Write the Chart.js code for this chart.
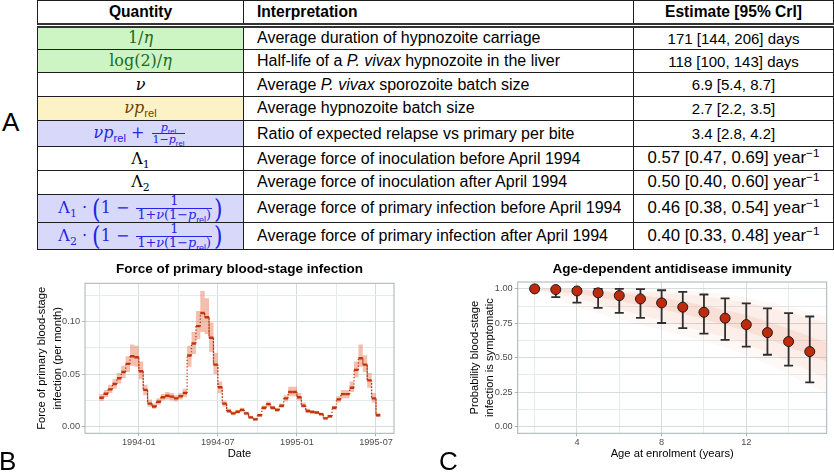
<!DOCTYPE html>
<html>
<head>
<meta charset="utf-8">
<script src="https://cdn.jsdelivr.net/npm/chart.js@4.4.0/dist/chart.umd.min.js"></script>
<style>
  body { margin: 0; width: 834px; height: 476px; position: relative; overflow: hidden; background: #fff;
         font-family: "Liberation Sans", Arial, sans-serif; }
  #tab { position: absolute; left: 37px; top: 0; width: 796px; border-collapse: collapse;
         table-layout: fixed; font-size: 16px; color: #000; }
  #tab th, #tab td { border: 1px solid #1e1e1e; padding: 0; white-space: nowrap; overflow: hidden; line-height: 1; }
  #tab th { height: 22px; font-size: 15.6px; font-weight: bold; text-align: center; border-bottom: 5px double #333; }
  #tab th.l, #tab td.i { text-align: left; padding-left: 13px; }
  #tab td.e, #tab td.q { text-align: center; }
  #tab td.e { font-size: 15px; }
  #tab td.e.yr { font-size: 16.8px; }
  #tab tr { height: 23.7px; }
  #tab tr.fr5 { height: 26.5px; }
  #tab tr.big { height: 28.6px; }
  #tab tr.big2 { height: 26.5px; }
  .q { font-family: "DejaVu Serif", serif; font-size: 16px; }
  .q sub { font-size: 0.68em; line-height: 0; }
  sub.s { font-family: "Liberation Sans", sans-serif; font-size: 0.7em; line-height: 0; }
  sup { font-size: 0.7em; vertical-align: 0.5em; line-height: 0; }
  .green { background: #cdf5c3; color: #226a22; }
  .yellow { background: #fdf2c6; color: #6a4300; }
  .blue { background: #d8d8fa; color: #2424e6; }
  .fr { display: inline-block; vertical-align: middle; text-align: center; font-size: 11px; line-height: 1; margin: 0 2px; }
  .fr.wide { font-size: 12.8px; line-height: 0.98; }
  .fr > span { display: block; padding: 0 1px; }
  .fr > span:first-child { border-bottom: 1px solid currentColor; }
  .bp { display: inline-block; font-size: 22px; line-height: 0.9; vertical-align: middle; font-weight: 300; transform: scale(1, 1.22); }
  canvas { position: absolute; }
  .lab { position: absolute; font-size: 26px; line-height: 26px; color: #000; }
</style>
</head>
<body>
<table id="tab">
  <colgroup><col style="width:206px"><col style="width:390px"><col style="width:200px"></colgroup>
  <tr><th>Quantity</th><th class="l">Interpretation</th><th>Estimate [95% CrI]</th></tr>
</table>
<canvas id="cb" width="420" height="221" style="left:0;top:255px"></canvas>
<canvas id="cc" width="414" height="221" style="left:420px;top:255px"></canvas>
<div class="lab" style="left:2px;top:109px">A</div>
<div class="lab" style="left:-1px;top:448px">B</div>
<div class="lab" style="left:439px;top:448px">C</div>
<script>
// ---- table A ----
const quantities = [
  '1/<i>η</i>',
  'log(2)/<i>η</i>',
  '<i>ν</i>',
  '<i>νp</i><sub class="s">rel</sub>',
  '<i>νp</i><sub class="s">rel</sub> + <span class="fr"><span><i>p</i><sub class="s">rel</sub></span><span>1−<i>p</i><sub class="s">rel</sub></span></span>',
  'Λ<sub>1</sub>',
  'Λ<sub>2</sub>',
  'Λ<sub>1</sub> · <span class="bp">(</span>1 − <span class="fr wide"><span>1</span><span>1+<i>ν</i>(1−<i>p</i><sub class="s">rel</sub>)</span></span><span class="bp">)</span>',
  'Λ<sub>2</sub> · <span class="bp">(</span>1 − <span class="fr wide"><span>1</span><span>1+<i>ν</i>(1−<i>p</i><sub class="s">rel</sub>)</span></span><span class="bp">)</span>'
];
const interpretations = [
  'Average duration of hypnozoite carriage',
  'Half-life of a <i>P. vivax</i> hypnozoite in the liver',
  'Average <i>P. vivax</i> sporozoite batch size',
  'Average hypnozoite batch size',
  'Ratio of expected relapse vs primary per bite',
  'Average force of inoculation before April 1994',
  'Average force of inoculation after April 1994',
  'Average force of primary infection before April 1994',
  'Average force of primary infection after April 1994'
];
const estimates = [
  '171 [144, 206] days',
  '118 [100, 143] days',
  '6.9 [5.4, 8.7]',
  '2.7 [2.2, 3.5]',
  '3.4 [2.8, 4.2]',
  '0.57 [0.47, 0.69] year<sup>−1</sup>',
  '0.50 [0.40, 0.60] year<sup>−1</sup>',
  '0.46 [0.38, 0.54] year<sup>−1</sup>',
  '0.40 [0.33, 0.48] year<sup>−1</sup>'
];
const quantityTone = ['green', 'green', '', 'yellow', 'blue', '', '', 'blue', 'blue'];
const rowKind = ['', '', '', '', 'fr5', '', '', 'big', 'big2'];

const tab = document.getElementById('tab');
quantities.forEach((q, i) => {
  const tr = tab.insertRow();
  tr.className = rowKind[i];
  const c0 = tr.insertCell(); c0.className = 'q ' + quantityTone[i]; c0.innerHTML = q;
  const c1 = tr.insertCell(); c1.className = 'i'; c1.innerHTML = interpretations[i];
  const c2 = tr.insertCell(); c2.className = estimates[i].includes('year') ? 'e yr' : 'e'; c2.innerHTML = estimates[i];
});

// ---- panel B: dekads from 1993-10 (index 0) ----
const dekadValues = [
  0.0276, 0.0314, 0.0355, 0.0406, 0.046, 0.052, 0.0597, 0.067, 0.066,
  0.0527, 0.035, 0.022, 0.0193, 0.0238, 0.028, 0.0295, 0.0286, 0.027,
  0.029, 0.032, 0.0676, 0.079, 0.0955, 0.108, 0.104, 0.0845, 0.059,
  0.0375, 0.022, 0.015, 0.0127, 0.0143, 0.016, 0.0127, 0.0089, 0.007,
  0.011, 0.018, 0.0215, 0.018, 0.016, 0.020, 0.027, 0.033, 0.033,
  0.028, 0.020, 0.015, 0.014, 0.0135, 0.012, 0.008, 0.010, 0.018,
  0.026, 0.031, 0.031, 0.037, 0.054, 0.065, 0.059, 0.044, 0.027,
  0.011
];
const dekadLower = [
  0.0245, 0.028, 0.032, 0.036, 0.041, 0.046, 0.052, 0.058, 0.057,
  0.045, 0.030, 0.019, 0.017, 0.021, 0.025, 0.026, 0.025, 0.024,
  0.026, 0.028, 0.057, 0.069, 0.083, 0.090, 0.088, 0.071, 0.050,
  0.032, 0.019, 0.013, 0.011, 0.0125, 0.014, 0.011, 0.0075, 0.006,
  0.0095, 0.016, 0.019, 0.016, 0.014, 0.018, 0.024, 0.029, 0.029,
  0.025, 0.018, 0.013, 0.0125, 0.012, 0.0105, 0.007, 0.0085, 0.016,
  0.023, 0.027, 0.027, 0.033, 0.047, 0.057, 0.052, 0.037, 0.023,
  0.0095
];
const dekadUpper = [
  0.031, 0.035, 0.040, 0.045, 0.051, 0.058, 0.067, 0.078, 0.077,
  0.062, 0.040, 0.026, 0.022, 0.027, 0.031, 0.033, 0.032, 0.030,
  0.032, 0.036, 0.077, 0.090, 0.110, 0.129, 0.122, 0.099, 0.070,
  0.043, 0.025, 0.017, 0.0145, 0.016, 0.018, 0.0145, 0.0105, 0.0085,
  0.0125, 0.020, 0.024, 0.020, 0.018, 0.022, 0.030, 0.038, 0.038,
  0.032, 0.023, 0.017, 0.016, 0.015, 0.0135, 0.0095, 0.0115, 0.020,
  0.029, 0.035, 0.035, 0.043, 0.062, 0.078, 0.068, 0.051, 0.032,
  0.013
];
const dateTickPos = [9, 27, 45, 63];
const dateTickLabels = ['1994-01', '1994-07', '1995-01', '1995-07'];

// ---- panel C ----
const ages = [2, 3, 4, 5, 6, 7, 8, 9, 10, 11, 12, 13, 14, 15];
const symptomMean = [1.00, 0.995, 0.985, 0.971, 0.951, 0.927, 0.898, 0.867, 0.830, 0.787, 0.740, 0.682, 0.617, 0.544];
const symptomLow = [1.00, 0.94, 0.90, 0.862, 0.826, 0.789, 0.752, 0.714, 0.674, 0.629, 0.58, 0.521, 0.442, 0.32];
const symptomHigh = [1.00, 1.00, 1.00, 1.00, 1.00, 0.998, 0.99, 0.978, 0.959, 0.931, 0.894, 0.858, 0.823, 0.799];
const fanAges = [2, 4, 6, 8, 10, 12, 14, 15.8];
const fanOuterLo = [1, 0.87, 0.78, 0.70, 0.62, 0.52, 0.38, 0.24];
const fanOuterHi = [1, 1, 1, 0.995, 0.975, 0.935, 0.87, 0.80];
const fanMidLo = [1, 0.93, 0.85, 0.77, 0.69, 0.60, 0.47, 0.35];
const fanMidHi = [1, 0.998, 0.985, 0.97, 0.945, 0.90, 0.83, 0.75];
const fanCoreLo = [1, 0.965, 0.91, 0.85, 0.78, 0.69, 0.58, 0.47];
const fanCoreHi = [1, 0.995, 0.97, 0.935, 0.88, 0.81, 0.71, 0.61];

Chart.defaults.font.family = '"Liberation Sans", Arial, sans-serif';
Chart.defaults.color = '#4d4d4d';

const GRID_MAJOR = '#d4dcdc';
const GRID_MINOR = '#e6ebeb';

const panelBox = {
  id: 'panelBox',
  afterDatasetsDraw(chart) {
    const { ctx, chartArea: a } = chart;
    ctx.save();
    ctx.strokeStyle = '#a7b2b2';
    ctx.lineWidth = 1;
    ctx.strokeRect(a.left, a.top, a.right - a.left, a.bottom - a.top);
    ctx.restore();
  }
};

function steps(vals) {
  const pts = [];
  vals.forEach((v, i) => { pts.push({ x: i, y: v }, { x: i + 1, y: v }); });
  return pts;
}
function pairs(xs, ys) {
  return xs.map((x, i) => ({ x: x, y: ys[i] }));
}
function isMult(v, m) {
  return Math.abs(v / m - Math.round(v / m)) < 1e-6;
}
const vertical = (c) => c.p0.parsed.x === c.p1.parsed.x;

new Chart(document.getElementById('cb'), {
  type: 'line',
  data: {
    datasets: [
      {
        data: steps(dekadValues), borderColor: '#c2340c', borderWidth: 2.4, pointRadius: 0, fill: false,
        borderCapStyle: 'butt',
        segment: {
          borderDash: (c) => vertical(c) ? [1.2, 2] : undefined,
          borderWidth: (c) => vertical(c) ? 1.3 : undefined
        }
      },
      { data: steps(dekadLower), borderColor: 'transparent', pointRadius: 0, fill: false },
      { data: steps(dekadUpper), borderColor: 'transparent', pointRadius: 0, fill: '-1',
        backgroundColor: 'rgba(232,128,96,0.5)' }
    ]
  },
  options: {
    responsive: false, animation: false, events: [],
    layout: { padding: { right: 26 } },
    plugins: {
      legend: { display: false },
      tooltip: { enabled: false },
      title: {
        display: true, fullSize: false, text: 'Force of primary blood-stage infection', color: '#000',
        font: { size: 13.5, weight: 'bold' }, padding: { top: 6.2, bottom: 5.9 }
      }
    },
    scales: {
      x: {
        type: 'linear', min: -3.25, max: 67.1,
        afterFit(s) { s.height = 42.7; },
        border: { display: false },
        grid: {
          color: (c) => dateTickPos.includes(c.tick.value) ? GRID_MAJOR : GRID_MINOR,
          tickLength: 3,
          tickColor: (c) => dateTickPos.includes(c.tick.value) ? '#b3b3b3' : 'transparent'
        },
        ticks: {
          stepSize: 9, includeBounds: false, autoSkip: false, maxRotation: 0, padding: 1,
          font: { size: 9.2 }, color: '#4d4d4d',
          callback: (v) => { const k = dateTickPos.indexOf(v); return k < 0 ? '' : dateTickLabels[k]; }
        },
        title: { display: true, text: 'Date', color: '#000', font: { size: 11.2 }, padding: { top: 0, bottom: 15.4 } }
      },
      y: {
        min: -0.0062, max: 0.1362,
        afterFit(s) { s.width = 85; },
        border: { display: false },
        grid: {
          color: (c) => isMult(c.tick.value, 0.05) ? GRID_MAJOR : GRID_MINOR,
          tickLength: 3,
          tickColor: (c) => isMult(c.tick.value, 0.05) ? '#b3b3b3' : 'transparent'
        },
        ticks: {
          stepSize: 0.025, includeBounds: false, autoSkip: false, padding: 2,
          font: { size: 9.2 }, color: '#4d4d4d',
          callback: (v) => isMult(v, 0.05) ? v.toFixed(2) : ''
        },
        title: {
          display: true, text: ['Force of primary blood-stage', 'infection (per month)'], color: '#000',
          font: { size: 11.2, lineHeight: 1.38 }, padding: { top: 34.3, bottom: 0 }
        }
      }
    }
  },
  plugins: [panelBox]
});

const errorBars = {
  id: 'errorBars',
  beforeDatasetDraw(chart, args) {
    if (args.index !== 0) return;
    const { ctx, scales: { x, y } } = chart;
    ctx.save();
    ctx.strokeStyle = '#2e2e2e';
    ctx.lineWidth = 1.8;
    ages.forEach((a, i) => {
      if (symptomHigh[i] - symptomLow[i] < 1e-3) return;
      const px = x.getPixelForValue(a);
      const lo = y.getPixelForValue(symptomLow[i]);
      const hi = y.getPixelForValue(symptomHigh[i]);
      ctx.beginPath();
      ctx.moveTo(px, lo); ctx.lineTo(px, hi);
      ctx.moveTo(px - 4.5, lo); ctx.lineTo(px + 4.5, lo);
      ctx.moveTo(px - 4.5, hi); ctx.lineTo(px + 4.5, hi);
      ctx.stroke();
    });
    ctx.restore();
  }
};

const fanStyle = { borderColor: 'transparent', pointRadius: 0, cubicInterpolationMode: 'monotone' };

new Chart(document.getElementById('cc'), {
  type: 'line',
  data: {
    datasets: [
      { data: pairs(ages, symptomMean), showLine: false, pointRadius: 5,
        pointBackgroundColor: '#bf2a0c', pointBorderColor: '#1a1a1a', pointBorderWidth: 1 },
      { ...fanStyle, data: pairs(fanAges, fanOuterLo), fill: false },
      { ...fanStyle, data: pairs(fanAges, fanOuterHi), fill: '-1', backgroundColor: 'rgba(236,140,110,0.06)' },
      { ...fanStyle, data: pairs(fanAges, fanMidLo), fill: false },
      { ...fanStyle, data: pairs(fanAges, fanMidHi), fill: '-1', backgroundColor: 'rgba(236,140,110,0.09)' },
      { ...fanStyle, data: pairs(fanAges, fanCoreLo), fill: false },
      { ...fanStyle, data: pairs(fanAges, fanCoreHi), fill: '-1', backgroundColor: 'rgba(236,140,110,0.16)' }
    ]
  },
  options: {
    responsive: false, animation: false, events: [],
    layout: { padding: { right: 7.3 } },
    plugins: {
      legend: { display: false },
      tooltip: { enabled: false },
      title: {
        display: true, fullSize: false, text: 'Age-dependent antidisease immunity', color: '#000',
        font: { size: 13.5, weight: 'bold' }, padding: { top: 6.6, bottom: 4.2 }
      }
    },
    scales: {
      x: {
        type: 'linear', min: 1.2, max: 15.8,
        afterFit(s) { s.height = 42.7; },
        border: { display: false },
        grid: {
          color: (c) => isMult(c.tick.value, 4) ? GRID_MAJOR : GRID_MINOR,
          tickLength: 3,
          tickColor: (c) => isMult(c.tick.value, 4) ? '#b3b3b3' : 'transparent'
        },
        ticks: {
          stepSize: 2, includeBounds: false, autoSkip: false, maxRotation: 0, padding: 1,
          font: { size: 9.2 }, color: '#4d4d4d',
          callback: (v) => isMult(v, 4) ? String(v) : ''
        },
        title: { display: true, text: 'Age at enrolment (years)', color: '#000', font: { size: 11.2 }, padding: { top: 0, bottom: 15.4 } }
      },
      y: {
        min: -0.05, max: 1.05,
        afterFit(s) { s.width = 97.7; },
        border: { display: false },
        grid: {
          color: (c) => isMult(c.tick.value, 0.25) ? GRID_MAJOR : GRID_MINOR,
          tickLength: 3,
          tickColor: (c) => isMult(c.tick.value, 0.25) ? '#b3b3b3' : 'transparent'
        },
        ticks: {
          stepSize: 0.125, includeBounds: false, autoSkip: false, padding: 2,
          font: { size: 9.2 }, color: '#4d4d4d',
          callback: (v) => isMult(v, 0.25) ? v.toFixed(2) : ''
        },
        title: {
          display: true, text: ['Probability blood-stage', 'infection is symptomatic'], color: '#000',
          font: { size: 11.2, lineHeight: 1.3 }, padding: { top: 47.7, bottom: 0 }
        }
      }
    }
  },
  plugins: [panelBox, errorBars]
});
</script>
</body>
</html>
